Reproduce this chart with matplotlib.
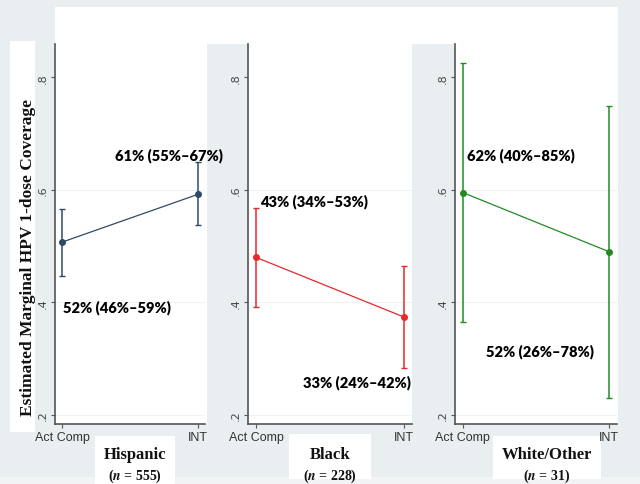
import matplotlib
matplotlib.use('Agg')
import matplotlib.pyplot as plt
from matplotlib.patches import Rectangle

plt.rcParams['mathtext.fontset'] = 'stix'

# data
groups = ['Hispanic', 'Black', 'White/Other']
group_n = [555, 228, 31]
conditions = ['Act Comp', 'INT']
est = [[0.507, 0.592], [0.480, 0.374], [0.595, 0.490]]
ci_lo = [[0.447, 0.537], [0.391, 0.283], [0.366, 0.230]]
ci_hi = [[0.566, 0.650], [0.568, 0.464], [0.825, 0.749]]
labels = [['52% (46%\u201359%)', '61% (55%\u201367%)'],
          ['43% (34%\u201353%)', '33% (24%\u201342%)'],
          ['62% (40%\u201385%)', '52% (26%\u201378%)']]
yticks = [0.2, 0.4, 0.6, 0.8]
ytick_labels = ['.2', '.4', '.6', '.8']

colors = ['#2d4b68', '#e8282c', '#248a24']
# label positions (data coords) and panel boxes (pixels)
label_pos = [[(0.01, 0.393), (0.39, 0.663)],
             [(0.03, 0.580), (0.32, 0.260)],
             [(0.03, 0.663), (0.155, 0.315)]]
axes_px = [(55, 205, 0.051), (248, 412, 0.054), (455, 617, 0.054)]
name_x = [135, 330, 547]

W, H = 640, 485
bg = '#e9eef1'
fig = plt.figure(figsize=(6.4, 4.85), dpi=100, facecolor=bg)

def frect(x0, y0, x1, y1, color='white'):
    # pixel rect, y from top
    fig.patches.append(Rectangle((x0 / W, 1 - y1 / H), (x1 - x0) / W, (y1 - y0) / H,
                                 transform=fig.transFigure, facecolor=color,
                                 edgecolor='none', zorder=-1))

frect(0, 478, 640, 485, '#f1f3f4')
frect(55, 8, 618, 45)
frect(10, 42, 35, 433)
frect(55, 8, 207, 425)
frect(248, 45, 412, 425)
frect(455, 8, 618, 425)
frect(95, 437, 175, 485)
frect(289, 435, 371, 480)
frect(493, 437, 601, 480)

for i in range(3):
    x0, x1, m = axes_px[i]
    ax = fig.add_axes([x0 / W, (H - 425) / H, (x1 - x0) / W, 380 / H])
    ax.set_facecolor('none')
    ax.set_xlim(-m, 1 + m)
    ax.set_ylim(0.184, 0.859)
    for sp in ['top', 'right']:
        ax.spines[sp].set_visible(False)
    for sp in ['left', 'bottom']:
        ax.spines[sp].set_color('#555555')
        ax.spines[sp].set_linewidth(1.2)
    for t in yticks[:3]:
        ax.axhline(t, color='#eef2f4', lw=0.8, zorder=0)
    xs = list(range(len(conditions)))
    yerr = [[est[i][j] - ci_lo[i][j] for j in xs], [ci_hi[i][j] - est[i][j] for j in xs]]
    ax.errorbar(xs, est[i], yerr=yerr, fmt='none', ecolor=colors[i], elinewidth=1.1,
                capsize=2.5, capthick=1.0, zorder=2, clip_on=False)
    ax.plot(xs, est[i], color=colors[i], lw=0.9, marker='o', ms=4, zorder=3, clip_on=False)
    ax.set_xticks(xs)
    ax.set_xticklabels(conditions, fontsize=9, color='#333333', family='Liberation Sans')
    ax.set_yticks(yticks)
    ax.set_yticklabels(ytick_labels, rotation=90, fontsize=8, color='#444444', va='center')
    ax.tick_params(axis='both', length=3, color='#555555', pad=2)
    for j in xs:
        tx, ty = label_pos[i][j]
        ax.text(tx, ty, labels[i][j], fontsize=10.5, fontweight='heavy', family='Lato',
                color='#000000', va='center', ha='left', clip_on=False, zorder=5)
    fig.text(name_x[i] / W, 1 - 455 / H, groups[i], fontsize=12, fontweight='bold',
             family='Liberation Serif', ha='center', va='center', color='#111111')
    fig.text(name_x[i] / W, 1 - 476 / H, '($\\mathbfit{n}$ = %d)' % group_n[i], fontsize=10,
             fontweight='bold', family='Liberation Serif', ha='center', va='center',
             color='#111111')

fig.text(28 / W, 1 - 258 / H, 'Estimated Marginal HPV 1-dose Coverage', rotation=90,
         fontsize=12.5, fontweight='bold', family='Liberation Serif', ha='center',
         va='center', color='#111111')

fig.savefig('out.png', dpi=100, facecolor=bg)
